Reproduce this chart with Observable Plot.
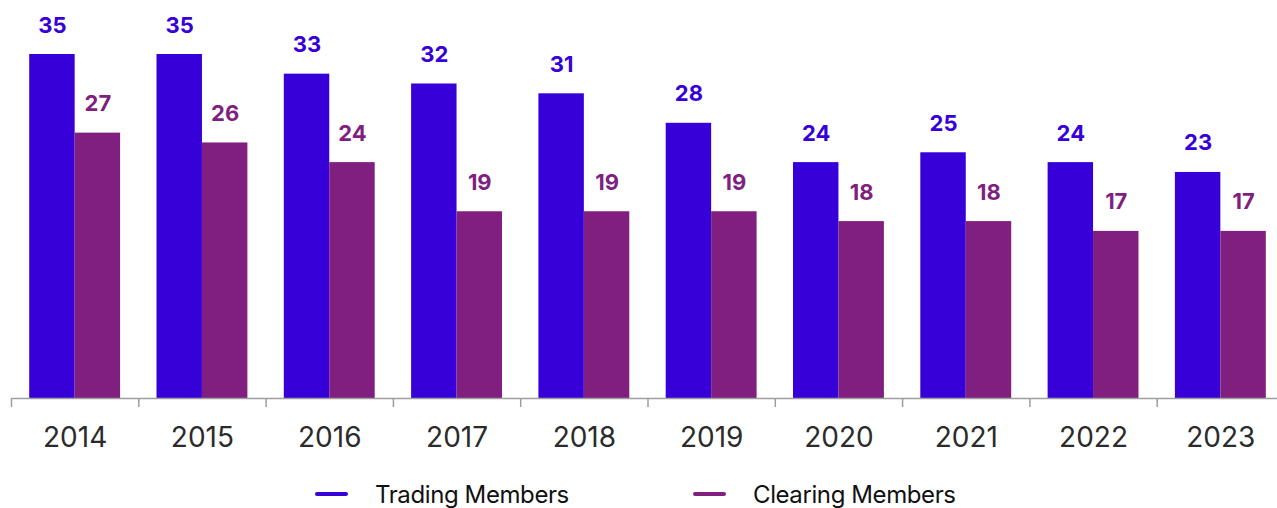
<!DOCTYPE html>
<html><head><meta charset="utf-8">
<script src="https://cdn.jsdelivr.net/npm/d3@7"></script>
<script src="https://cdn.jsdelivr.net/npm/@observablehq/plot@0.6"></script>
<style>
body{margin:0;background:#fff;font-family:Inter,sans-serif;}
#legend{position:relative;width:1277px;height:38px;}
.item{position:absolute;top:5px;height:38px;display:flex;align-items:center;font-size:24px;color:#111;letter-spacing:-0.4px;white-space:nowrap}
.swatch{width:33px;height:4px;border-radius:2px;margin-right:27px}
</style></head><body>
<div id="chart"></div>
<div id="legend"></div>
<script>
const years = [2014, 2015, 2016, 2017, 2018, 2019, 2020, 2021, 2022, 2023];
const tradingMembers = [35, 35, 33, 32, 31, 28, 24, 25, 24, 23];
const clearingMembers = [27, 26, 24, 19, 19, 19, 18, 18, 17, 17];
const seriesNames = ["Trading Members", "Clearing Members"];
const seriesColors = ["#3700d9", "#801f80"];

const rows = years.flatMap((year, i) => [
  {year, series: seriesNames[0], value: tradingMembers[i]},
  {year, series: seriesNames[1], value: clearingMembers[i]}
]);
const boundaries = years.map(y => y - 0.5).concat([years[years.length - 1] + 0.5]);

const halfBar = 0.357;
const isFirst = d => d.series === seriesNames[0];
const x1 = d => isFirst(d) ? d.year - halfBar : d.year;
const x2 = d => isFirst(d) ? d.year : d.year + halfBar;
const xm = d => isFirst(d) ? d.year - halfBar / 2 : d.year + halfBar / 2;

const chart = Plot.plot({
  width: 1277,
  height: 470,
  marginLeft: 11,
  marginRight: 0,
  marginTop: 54,
  marginBottom: 72,
  style: {fontFamily: "Inter, sans-serif", background: "#fff", overflow: "visible"},
  x: {type: "linear", domain: [boundaries[0], boundaries[boundaries.length - 1]], range: [11, 1284]},
  y: {domain: [0, 35], axis: null},
  color: {domain: seriesNames, range: seriesColors},
  marks: [
    Plot.rect(rows, {x1, x2, y1: 0, y2: "value", fill: "series"}),
    Plot.ruleY([0], {stroke: "#9e9e9e", strokeWidth: 1.5}),
    Plot.axisX({ticks: boundaries, tickSize: 9, tickFormat: () => "", stroke: "#9e9e9e", strokeWidth: 1.5}),
    Plot.text(rows, {x: xm, y: "value", text: d => String(d.value), fill: "series", fontSize: 22, fontWeight: 700, dy: -29, lineAnchor: "middle"}),
    Plot.text(years, {x: d => d, frameAnchor: "bottom", lineAnchor: "middle", dy: 40, text: d => String(d), fontSize: 28, fill: "#2b2b2b", letterSpacing: "-1px"})
  ]
});
document.getElementById("chart").appendChild(chart);

const legend = document.getElementById("legend");
const legendLeft = [315, 693];
seriesNames.forEach((name, i) => {
  const item = document.createElement("div");
  item.className = "item";
  item.style.left = legendLeft[i] + "px";
  const sw = document.createElement("span");
  sw.className = "swatch";
  sw.style.background = seriesColors[i];
  const label = document.createElement("span");
  label.textContent = name;
  item.appendChild(sw);
  item.appendChild(label);
  legend.appendChild(item);
});
</script>
</body></html>
